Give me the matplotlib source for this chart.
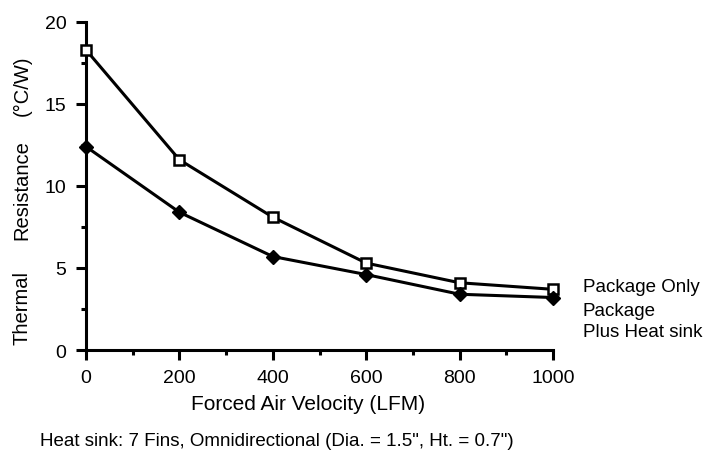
import matplotlib
matplotlib.use("Agg")
import matplotlib.pyplot as plt
from matplotlib.ticker import MultipleLocator

velocity = [0, 200, 400, 600, 800, 1000]
package_only = [18.3, 11.6, 8.1, 5.3, 4.1, 3.7]
with_heat_sink = [12.4, 8.4, 5.7, 4.6, 3.4, 3.2]

plt.rcParams['font.family'] = ['Liberation Sans', 'DejaVu Sans']

fig = plt.figure(figsize=(7.07, 4.52), dpi=100)
ax = fig.add_axes([86 / 707, 1 - 351 / 452, 467 / 707, 328 / 452])

ax.plot(velocity, package_only, color='black', lw=2.2, marker='s', ms=7.5,
        mfc='white', mec='black', mew=1.8, clip_on=False, zorder=3)
ax.plot(velocity, with_heat_sink, color='black', lw=2.2, marker='D', ms=7,
        mfc='black', mec='black', clip_on=False, zorder=3)

ax.set_xlim(0, 1000)
ax.set_ylim(0, 20)
ax.xaxis.set_major_locator(MultipleLocator(200))
ax.xaxis.set_minor_locator(MultipleLocator(100))
ax.yaxis.set_major_locator(MultipleLocator(5))
ax.yaxis.set_minor_locator(MultipleLocator(2.5))

for s in ['top', 'right']:
    ax.spines[s].set_visible(False)
for s in ['left', 'bottom']:
    ax.spines[s].set_linewidth(2.2)

ax.tick_params(which='major', length=7, width=2.2, labelsize=14)
ax.tick_params(which='minor', length=3.5, width=2.2)
ax.tick_params(axis='x', which='major', pad=6.5)
ax.tick_params(axis='y', which='major', pad=7)

fig.text(308 / 707, 1 - 410 / 452, 'Forced Air Velocity (LFM)',
         ha='center', va='baseline', fontsize=15)

# y label split in three words, as in the original
fig.text(22 / 707, 1 - 308 / 452, 'Thermal', rotation=90, ha='center', va='center', fontsize=14.5)
fig.text(22 / 707, 1 - 190 / 452, 'Resistance', rotation=90, ha='center', va='center', fontsize=14.5)
fig.text(22 / 707, 1 - 86 / 452, '(°C/W)', rotation=90, ha='center', va='center', fontsize=14.5)

fig.text(583 / 707, 1 - 288 / 452, 'Package Only', ha='left', va='center', fontsize=13.5)
fig.text(583 / 707, 1 - 311 / 452, 'Package', ha='left', va='center', fontsize=13.5)
fig.text(583 / 707, 1 - 333 / 452, 'Plus Heat sink', ha='left', va='center', fontsize=13.5)

fig.text(40 / 707, 1 - 446 / 452,
         'Heat sink: 7 Fins, Omnidirectional (Dia. = 1.5", Ht. = 0.7")',
         ha='left', va='baseline', fontsize=13.5)

fig.savefig('out.png', dpi=100)
